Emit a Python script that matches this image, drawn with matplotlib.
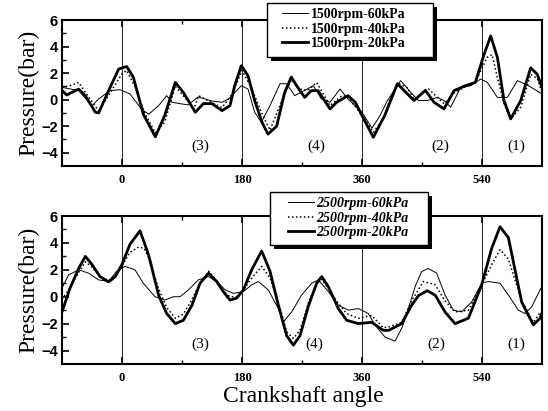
import matplotlib
matplotlib.use("Agg")
import matplotlib.pyplot as plt
import matplotlib.patheffects as pe
from matplotlib.patches import Rectangle

# --- 1500 rpm (upper panel) ---
ang_1500_60 = [-90, -65, -45, -35, -18, -3, 12, 29, 40, 55, 67, 75, 87, 99, 114,
               135, 150, 160, 179, 189, 199, 209, 222, 237, 247, 259, 274, 287,
               299, 312, 327, 339, 360, 375, 387, 398, 418, 433, 445, 458, 473,
               483, 493, 508, 523, 538, 548, 563, 578, 593, 608, 630]
p_1500_60 = [0.93, 0.68, -0.45, 0.05, 0.68, 0.75, 0.43, -0.7, -1.1, -0.45, 0.3,
             -0.2, -0.3, -0.4, 0.2, -0.1, -0.2, 0.05, 1.05, 0.8, -0.95, -1.7,
             -0.45, 1.2, 1.2, 0.3, 0.7, 1.05, 0.05, -0.2, 0.8, 0.05, -0.95,
             -2.15, -1.2, -0.07, 1.43, 0.55, -0.07, -0.07, 0.17, -0.07, -0.57,
             0.93, 1.05, 1.55, 1.3, 0.17, 0.17, 1.43, 1.1, 0.43]

ang_1500_40 = [-90, -75, -65, -50, -35, -18, 0, 7, 20, 35, 50, 64, 80, 92, 108,
               115, 130, 150, 165, 180, 194, 209, 222, 242, 254, 265, 279, 292,
               299, 312, 330, 339, 360, 377, 392, 403, 415, 428, 438, 460, 473,
               483, 498, 518, 530, 540, 548, 555, 563, 573, 583, 598, 613, 623,
               630]
p_1500_40 = [0.9, 1.1, 1.3, 0.2, -0.85, 0.5, 1.95, 2.2, 0.93, -1.1, -2.5, -1.7,
             1.0, 0.3, -0.7, 0.3, -0.1, -0.6, 0.4, 2.2, 0.9, -0.95, -2.3, 0.2,
             1.5, 0.8, 0.7, 1.3, 0.68, -0.45, 0.3, 0.2, -1.2, -2.45, -1.45, 0.17,
             1.2, 0.9, 0.05, 0.8, 0.17, -0.3, 0.5, 1.05, 1.3, 2.4, 3.2, 3.4, 1.7,
             -0.3, -1.45, -0.57, 1.9, 1.6, 0.5]

ang_1500_20 = [-90, -83, -65, -55, -40, -35, -18, -5, 7, 17, 32, 50, 64, 80, 92,
               110, 122, 135, 150, 162, 169, 179, 189, 199, 210, 219, 232, 244,
               254, 262, 274, 284, 294, 312, 322, 339, 350, 360, 377, 394, 413,
               438, 455, 468, 483, 498, 515, 530, 543, 553, 563, 573, 583, 598,
               613, 623, 630]
p_1500_20 = [0.7, 0.35, 0.8, 0.3, -0.95, -1.0, 0.9, 2.3, 2.5, 1.7, -1.1, -2.8,
             -1.2, 1.3, 0.55, -0.95, -0.3, -0.3, -0.83, -0.45, 1.05, 2.56, 1.8,
             -0.07, -1.7, -2.6, -2.0, 0.55, 1.7, 1.05, 0.17, 0.68, 0.68, -0.7,
             -0.2, 0.3, -0.2, -1.2, -2.84, -1.2, 1.2, -0.07, 0.7, -0.2, -0.7,
             0.68, 1.05, 1.3, 3.4, 4.8, 3.2, -0.07, -1.45, -0.07, 2.4, 1.9, 0.9]

# --- 2500 rpm (lower panel) ---
ang_2500_60 = [-90, -80, -65, -50, -35, -20, -8, 4.5, 19.5, 32, 49.5, 64.5, 77,
               87, 99.5, 114.5, 130, 145, 155, 167, 182, 194.5, 204.5, 219.5,
               234.5, 242, 254.5, 269.5, 284.5, 294.5, 309.5, 324.5, 339.5,
               354.5, 369.5, 379.5, 394.5, 409.5, 420, 429.5, 440, 449.5, 459.5,
               472, 484.5, 497, 509.5, 524.5, 539.5, 549.5, 567, 579.5, 594.5,
               604.5, 614.5, 629.5]
p_2500_60 = [0.63, 1.63, 2.0, 1.75, 1.25, 1.13, 1.9, 2.26, 2.0, 1.0, 0.0, -0.25,
             0.0, 0.0, 0.5, 1.25, 1.5, 1.0, 0.5, 0.25, 0.38, 0.88, 1.13, 0.5,
             -0.88, -1.88, -1.13, 0.13, 1.0, 1.25, 0.38, -0.63, -1.0, -0.88,
             -1.25, -2.1, -3.0, -3.3, -2.3, -0.88, 0.8, 1.88, 2.1, 1.75, 0.13,
             -1.0, -1.13, -0.38, 1.0, 1.13, 1.0, 0.13, -1.0, -1.25, -0.75, 0.75]

ang_2500_40 = [-90, -80, -65, -55, -45, -33, -20, -10, 0, 12, 25, 33, 40, 48, 55,
               67, 80, 92, 105, 117, 130, 142, 152, 162, 172, 182, 194.5, 209.5,
               222, 234.5, 247, 257, 267, 280, 292, 299.5, 309.5, 324.5, 337,
               354.5, 374.5, 392, 399.5, 419.5, 434.5, 452, 469.5, 484.5, 499.5,
               519.5, 539.5, 554.5, 567, 579.5, 599.5, 617, 627]
p_2500_40 = [-0.2, 0.5, 1.8, 2.6, 2.2, 1.5, 1.2, 1.6, 2.3, 3.3, 3.7, 3.6, 2.9,
             1.6, 0.6, -0.8, -1.6, -1.3, -0.2, 1.0, 1.9, 1.2, 0.4, 0.0, 0.0, 0.5,
             1.38, 2.26, 1.4, -0.4, -2.6, -3.1, -2.5, -0.4, 1.0, 1.3, 0.6, -0.5,
             -1.25, -1.6, -1.4, -2.3, -2.26, -1.9, -0.3, 1.13, 0.9, -0.3, -1.13,
             -1.0, 0.88, 2.38, 3.5, 2.8, -0.3, -1.9, -1.2]

ang_2500_20 = [-90, -78, -65, -55, -45, -33, -20, -10, 0, 12, 27, 40, 55, 67, 80,
               92, 105, 117, 130, 142, 152, 162, 172, 182, 194.5, 209.5, 222,
               234.5, 247, 257, 267, 280, 292, 299.5, 309.5, 324.5, 337, 354.5,
               374.5, 392, 400, 419.5, 434.5, 445, 458, 470, 484.5, 499.5, 519.5,
               539.5, 554.5, 567, 579.5, 599.5, 617, 627, 630]
p_2500_20 = [-1.13, 0.63, 2.1, 3.0, 2.4, 1.5, 1.1, 1.5, 2.4, 3.9, 4.9, 3.1, 0.1,
             -1.25, -2.0, -1.75, -0.63, 1.0, 1.75, 1.13, 0.38, -0.25, -0.1, 0.5,
             2.0, 3.4, 1.9, -0.63, -2.9, -3.6, -2.9, -0.63, 1.0, 1.5, 0.75,
             -0.88, -1.75, -2.0, -1.9, -2.5, -2.5, -2.0, -0.63, 0.1, 0.45, 0.1,
             -1.13, -2.0, -1.6, 0.88, 3.6, 5.2, 4.4, -0.4, -2.1, -1.6, -1.2]

crank_ticks = [0, 180, 360, 540]
region_names = ["(3)", "(4)", "(2)", "(1)"]

W, H = 548, 411
serif = "Liberation Serif"
plt.rcParams["font.family"] = [serif, "DejaVu Serif"]

fig = plt.figure(figsize=(W / 100, H / 100), dpi=100)
ax_top = fig.add_axes([0.1131, 0.5961, 0.876, 0.3552])
ax_bot = fig.add_axes([0.1131, 0.1144, 0.876, 0.3600])


def px_box(x0, y0, x1, y1):
    # pixel box (top-left origin) -> figure-fraction rectangle
    return (x0 / W, 1 - y1 / H), (x1 - x0) / W, (y1 - y0) / H


panels = [
    (ax_top, "1500rpm", [(ang_1500_60, p_1500_60), (ang_1500_40, p_1500_40),
                         (ang_1500_20, p_1500_20)],
     [117, 292, 477, 592], False, (267, 3, 433, 57), (282, 8)),
    (ax_bot, "2500rpm", [(ang_2500_60, p_2500_60), (ang_2500_40, p_2500_40),
                         (ang_2500_20, p_2500_20)],
     [117, 288, 472, 592], True, (270, 192, 428, 245), (288, 197)),
]
loads = ["60kPa", "40kPa", "20kPa"]
styles = [dict(color="black", lw=0.7, ls="-"),
          dict(color="black", lw=1.1, ls=(0, (1, 1.6))),
          dict(color="black", lw=2.0, ls="-")]

for ax, rpm, series, reg_x, italic, box, anchor in panels:
    for xv in crank_ticks:
        ax.axvline(xv, color="black", lw=0.6, zorder=1)
    handles = []
    for (xs, ys), load, st in zip(series, loads, styles):
        h, = ax.plot(xs, ys, label=f"{rpm}-{load}", zorder=3, **st)
        handles.append(h)
    for name, rx in zip(region_names, reg_x):
        ax.text(rx, -3.5, name, ha="center", va="center", fontsize=11,
                family=serif)

    ax.set_xlim(-90, 630)
    ax.set_ylim(-5, 6)
    ax.set_xticks(crank_ticks)
    ax.set_xticks([90, 270, 450], minor=True)
    ax.set_yticks([-4, -2, 0, 2, 4, 6])
    ax.set_yticks([-3, -1, 1, 3, 5], minor=True)
    ax.tick_params(which="both", direction="in", top=True, right=False)
    ax.tick_params(which="major", length=5, width=1.2)
    ax.tick_params(which="minor", length=3, width=1.0)
    ax.tick_params(axis="x", pad=6)
    ax.tick_params(axis="y", pad=3)
    for lab in ax.get_xticklabels():
        lab.set_fontfamily(serif)
        lab.set_fontweight("bold")
        lab.set_fontsize(9)
    for lab in ax.get_yticklabels():
        lab.set_fontfamily("Liberation Sans")
        lab.set_fontweight("bold")
        lab.set_fontsize(10.5)
    for sp in ax.spines.values():
        sp.set_linewidth(1.5)
    ax.set_ylabel("Pressure(bar)", fontsize=17, family=serif, labelpad=1)

    # legend frame with a solid black drop shadow
    xy, bw, bh = px_box(*box)
    frame = Rectangle(xy, bw, bh, transform=fig.transFigure,
                      facecolor="white", edgecolor="black", lw=1.0, zorder=4)
    frame.set_path_effects([
        pe.SimplePatchShadow(offset=(3.2, -3.2), shadow_rgbFace="black",
                             alpha=1.0),
        pe.Normal()])
    fig.patches.append(frame)

    fig.legend(handles=handles, loc="upper left",
               bbox_to_anchor=(anchor[0] / W, 1 - anchor[1] / H),
               bbox_transform=fig.transFigure,
               prop=dict(family=serif, size=10, weight="bold",
                         style="italic" if italic else "normal"),
               frameon=False, handlelength=1.9, handletextpad=0.15,
               labelspacing=0.12, borderpad=0, borderaxespad=0)

fig.text(0.553, 0.035, "Crankshaft angle", ha="center", va="center",
         fontsize=17, family=serif)

fig.savefig("out.png", dpi=100)
